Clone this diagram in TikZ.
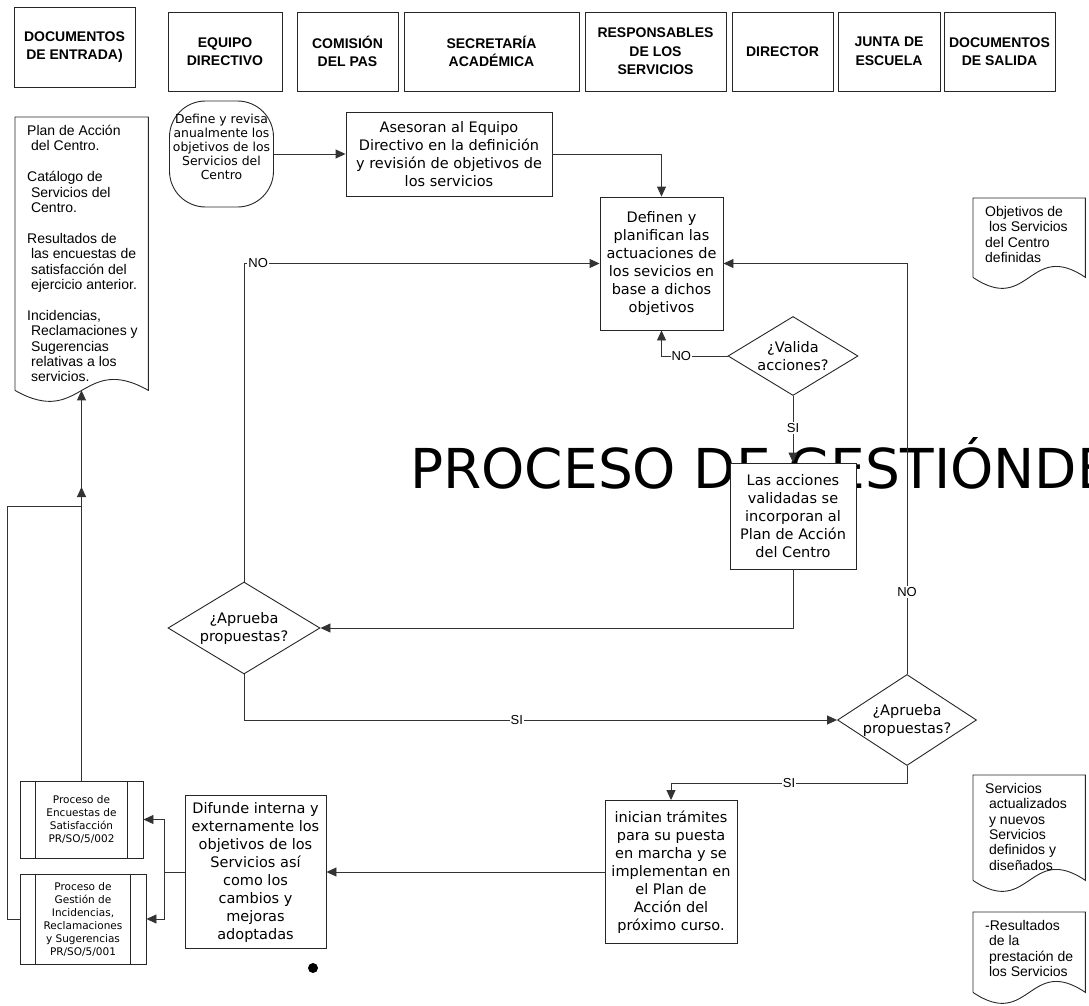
\documentclass[tikz,border=0pt]{standalone}
\usepackage{fontspec}
\setmainfont{Liberation Sans}
\newfontfamily\verdana{DejaVu Sans}
\usetikzlibrary{arrows.meta,positioning,shapes.geometric,calc}
\definecolor{cLine}{HTML}{333333}

% document shape with wavy bottom, drawn round an empty node
\newcommand{\docshape}[1]{%
  \draw[cell] (#1.south west) -- (#1.north west) -- (#1.north east) -- (#1.south east)
    .. controls ($(#1.south)+(0,-38)$) and ($(#1.south)+(0,38)$) .. (#1.south west);}
% predefined process: two inner bars
\newcommand{\predef}[1]{%
  \draw[cell] ([xshift=16]#1.north west) -- ([xshift=16]#1.south west);
  \draw[cell] ([xshift=-16]#1.north east) -- ([xshift=-16]#1.south east);}

\begin{document}
\begin{tikzpicture}[x=1pt,y=-1pt,
  cell/.style={draw=black!85,line width=.9pt},
  lane/.style={cell,font=\bfseries\fontsize{14}{18.5}\selectfont,align=center,inner sep=0pt},
  act/.style={cell,fill=white,font=\verdana\fontsize{14.5}{18}\selectfont,align=center,inner sep=0pt},
  ask/.style={act,diamond,inner sep=0pt},
  sub/.style={cell,fill=white,font=\verdana\fontsize{10.5}{13}\selectfont,align=center,inner sep=0pt},
  doctext/.style={font=\fontsize{14}{15.4}\selectfont,align=left,inner sep=0pt,anchor=north west},
  flow/.style={line width=.9pt,draw=cLine,-{Triangle[length=10pt,width=9pt]}},
  link/.style={line width=.9pt,draw=cLine},
  lbl/.style={fill=white,inner sep=1pt,font=\fontsize{13}{15}\selectfont}]
\path[use as bounding box] (0,0) rectangle (1089,1006);
% title behind everything
\node[font=\verdana\fontsize{55}{55}\selectfont,anchor=base west,inner sep=0pt] (ttl) at (410,488) {PROCESO DE GESTIÓNDE};
% lanes
\node[lane,minimum width=121,minimum height=80] (hdin) at (74.5,47) {DOCUMENTOS\\DE ENTRADA)};
\node[lane,minimum width=114,minimum height=79] (hequ) at (225,51.5) {EQUIPO\\DIRECTIVO};
\node[lane,minimum width=101,minimum height=79] (hcom) at (347.5,51.5) {COMISIÓN\\DEL PAS};
\node[lane,minimum width=175,minimum height=79] (hsec) at (491.5,51.5) {SECRETARÍA\\ACADÉMICA};
\node[lane,minimum width=141,minimum height=79] (hres) at (655.5,51.5) {RESPONSABLES\\DE LOS\\SERVICIOS};
\node[lane,minimum width=101,minimum height=79] (hdir) at (782.5,51.5) {DIRECTOR};
\node[lane,minimum width=102,minimum height=79] (hjun) at (889,51.5) {JUNTA DE\\ESCUELA};
\node[lane,minimum width=111,minimum height=79] (hdout) at (999.5,51.5) {DOCUMENTOS\\DE SALIDA};
% documents
\node[minimum width=133,minimum height=273,anchor=north west,inner sep=0pt] (docin) at (15,117) {};
\docshape{docin}
\node[doctext] (docintxt) at (27,125) {Plan de Acción\\~del Centro.\\[15.4pt]Catálogo de\\~Servicios del\\~Centro.\\[15.4pt]Resultados de\\~las encuestas de\\~satisfacción del\\~ejercicio anterior.\\[15.4pt]Incidencias,\\~Reclamaciones y\\~Sugerencias\\~relativas a los\\~servicios.};
\node[minimum width=112,minimum height=79,anchor=north west,inner sep=0pt] (docobj) at (973,198) {};
\docshape{docobj}
\node[doctext] (docobjtxt) at (985,206) {Objetivos de\\~los Servicios\\del Centro\\definidas};
\node[minimum width=112,minimum height=105,anchor=north west,inner sep=0pt] (docsrv) at (973,775) {};
\docshape{docsrv}
\node[doctext] (docsrvtxt) at (985,783) {Servicios\\~actualizados\\~y nuevos\\~Servicios\\~definidos y\\~diseñados};
\node[minimum width=112,minimum height=80,anchor=north west,inner sep=0pt] (docres) at (973,912) {};
\docshape{docres}
\node[doctext] (docrestxt) at (985,920) {-Resultados\\~de la\\~prestación de\\~los Servicios};
% activities
\node[act,rounded corners=36,minimum width=104,minimum height=106,font=\verdana\fontsize{12.4}{14}\selectfont] (defv) at (221.5,154) {Define y revisa\\anualmente los\\objetivos de los\\Servicios del\\Centro\\\mbox{}};
\node[act,minimum width=206,minimum height=84] (ases) at (449,154) {Asesoran al Equipo\\Directivo en la definición\\y revisión de objetivos de\\los servicios};
\node[act,minimum width=123,minimum height=133] (defn) at (661.5,263.5) {Definen y\\planifican las\\actuaciones de\\los sevicios en\\base a dichos\\objetivos};
\node[ask,aspect=1.65,minimum width=130,minimum height=79] (val) at (793,356) {¿Valida\\acciones?};
\node[act,minimum width=126,minimum height=106] (acc) at (793,516) {Las acciones\\validadas se\\incorporan al\\Plan de Acción\\del Centro};
\node[ask,aspect=1.6,minimum width=152,minimum height=92] (apr1) at (244,628) {¿Aprueba\\propuestas?};
\node[ask,aspect=1.53,minimum width=139,minimum height=91] (apr2) at (907,720) {¿Aprueba\\propuestas?};
\node[act,minimum width=132,minimum height=143] (inic) at (671,872) {inician trámites\\para su puesta\\en marcha y se\\implementan en\\el Plan de\\Acción del\\próximo curso.};
\node[act,minimum width=141,minimum height=153] (difu) at (255.5,872) {Difunde interna y\\externamente los\\objetivos de los\\Servicios así\\como los\\cambios y\\mejoras\\adoptadas};
\node[sub,minimum width=123,minimum height=77] (enc) at (81.5,819.5) {Proceso de\\Encuestas de\\Satisfacción\\PR/SO/5/002};
\predef{enc}
\node[sub,minimum width=126,minimum height=90] (gest) at (83,919) {Proceso de\\Gestión de\\Incidencias,\\Reclamaciones\\y Sugerencias\\PR/SO/5/001};
\predef{gest}
\node[circle,fill=black,inner sep=0pt,minimum size=10] (dot) at (313,968) {};
% connectors
\draw[flow] (defv.east) -- (ases.west);
\draw[flow] (ases.east) -| (defn.north);
\draw[flow] (val.west) -| (defn.south) node[lbl,pos=.35] {NO};
\draw[flow] (val.south) -- (acc.north) node[lbl,pos=.48] {SI};
\draw[flow] (acc.south) |- (apr1.east);
\draw[flow] (apr1.north) |- (defn.west) node[lbl,pos=.52] {NO};
\draw[flow] (apr1.south) |- (apr2.west) node[lbl,pos=.73] {SI};
\draw[flow] (apr2.north) |- (defn.east) node[lbl,pos=.1] {NO};
\draw[flow] (apr2.south) -- ++(0,17) -| (inic.north) node[lbl,pos=.25] {SI};
\draw[flow] (inic.west) -- (difu.east);
\coordinate (fork) at ($(difu.west)+(-20,0)$);
\draw[link] (difu.west) -- (fork);
\draw[flow] (fork) |- (enc.east);
\draw[flow] (fork) |- (gest.east);
\draw[flow] (enc.north) -- (enc.north |- docin.south);
\coordinate (merge) at (81.5,506);
\draw[flow] (gest.west) -- ++(-12,0) |- (merge) -- ++(0,-19);
\end{tikzpicture}
\end{document}
